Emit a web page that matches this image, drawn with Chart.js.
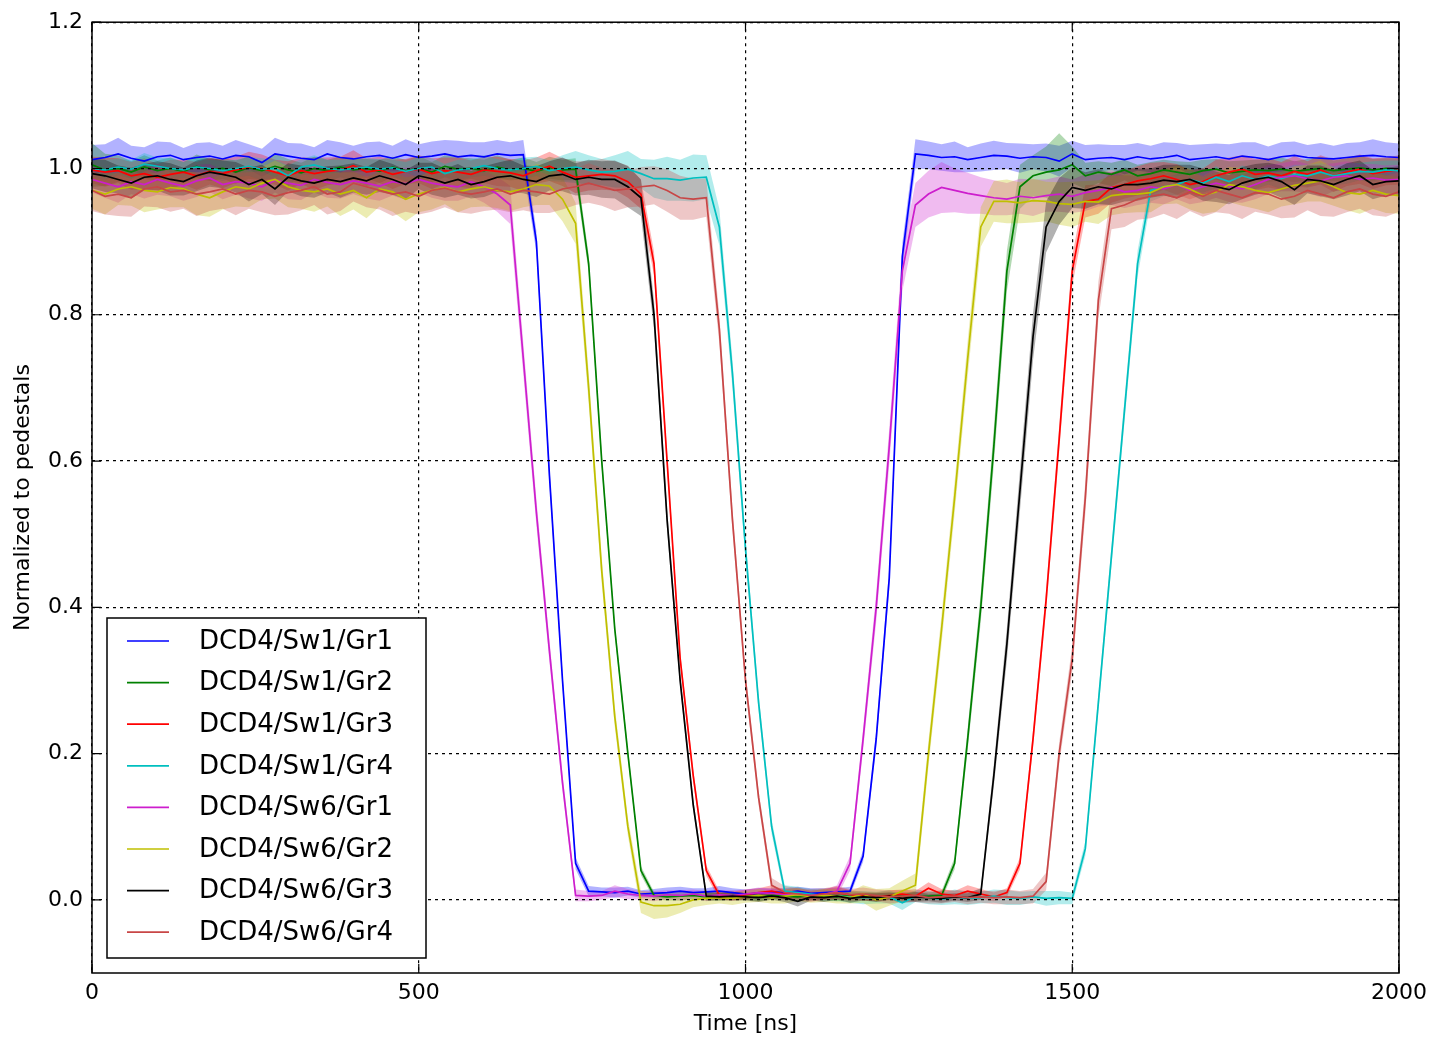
<!DOCTYPE html>
<html>
<head>
<meta charset="utf-8">
<script src="https://cdn.jsdelivr.net/npm/chart.js@4.4.1/dist/chart.umd.min.js"></script>
<style>
  html, body { margin: 0; padding: 0; background: #fff; }
  #wrap { width: 1431px; height: 1037px; }
</style>
</head>
<body>
<div id="wrap"><canvas id="myChart"></canvas></div>
<script>
// time axis, ns (one sample every 20 ns)
const times = [
  0, 20, 40, 60, 80, 100, 120, 140, 160, 180,
  200, 220, 240, 260, 280, 300, 320, 340, 360, 380,
  400, 420, 440, 460, 480, 500, 520, 540, 560, 580,
  600, 620, 640, 660, 680, 700, 720, 740, 760, 780,
  800, 820, 840, 860, 880, 900, 920, 940, 960, 980,
  1000, 1020, 1040, 1060, 1080, 1100, 1120, 1140, 1160, 1180,
  1200, 1220, 1240, 1260, 1280, 1300, 1320, 1340, 1360, 1380,
  1400, 1420, 1440, 1460, 1480, 1500, 1520, 1540, 1560, 1580,
  1600, 1620, 1640, 1660, 1680, 1700, 1720, 1740, 1760, 1780,
  1800, 1820, 1840, 1860, 1880, 1900, 1920, 1940, 1960, 1980,
  2000
];

const seriesNames = [
  'DCD4/Sw1/Gr1', 'DCD4/Sw1/Gr2', 'DCD4/Sw1/Gr3', 'DCD4/Sw1/Gr4',
  'DCD4/Sw6/Gr1', 'DCD4/Sw6/Gr2', 'DCD4/Sw6/Gr3', 'DCD4/Sw6/Gr4'
];

const sw1gr1 = [
  1.012, 1.015, 1.020, 1.014, 1.010, 1.016, 1.018, 1.012, 1.015, 1.017,
  1.013, 1.018, 1.016, 1.008, 1.020, 1.017, 1.014, 1.012, 1.020, 1.015,
  1.013, 1.016, 1.018, 1.014, 1.019, 1.015, 1.017, 1.020, 1.016, 1.018,
  1.016, 1.020, 1.018, 1.019, 0.900, 0.580, 0.300, 0.050, 0.012, 0.011,
  0.010, 0.012, 0.008, 0.009, 0.010, 0.012, 0.010, 0.011, 0.012, 0.010,
  0.008, 0.009, 0.011, 0.010, 0.012, 0.009, 0.010, 0.011, 0.012, 0.060,
  0.220, 0.440, 0.880, 1.020, 1.018, 1.015, 1.016, 1.012, 1.015, 1.018,
  1.017, 1.014, 1.016, 1.015, 1.010, 1.020, 1.012, 1.014, 1.015, 1.012,
  1.016, 1.013, 1.015, 1.018, 1.012, 1.014, 1.016, 1.013, 1.017, 1.015,
  1.012, 1.016, 1.018, 1.015, 1.014, 1.013, 1.015, 1.017, 1.018, 1.016,
  1.015
];
const sw1gr2 = [
  1.005, 0.998, 1.000, 0.995, 1.002, 0.997, 1.000, 0.996, 1.003, 0.998,
  1.000, 0.995, 1.001, 0.997, 1.003, 0.998, 0.994, 1.000, 0.997, 1.002,
  0.998, 1.000, 0.996, 1.002, 0.997, 1.000, 0.995, 1.003, 0.999, 1.000,
  0.997, 1.002, 0.998, 1.000, 0.996, 1.001, 0.998, 0.999, 0.870, 0.600,
  0.370, 0.200, 0.040, 0.006, 0.004, 0.005, 0.006, 0.004, 0.005, 0.006,
  0.005, 0.004, 0.006, 0.005, 0.004, 0.006, 0.005, 0.004, 0.006, 0.005,
  0.004, 0.005, 0.006, 0.004, 0.005, 0.006, 0.050, 0.220, 0.400, 0.620,
  0.860, 0.975, 0.990, 0.995, 0.998, 1.005, 0.990, 0.995, 0.992, 0.998,
  0.990, 0.993, 0.998, 0.995, 0.992, 0.997, 0.999, 0.994, 0.996, 0.998,
  0.997, 0.999, 0.996, 0.998, 1.000, 0.997, 0.999, 1.001, 0.998, 1.000,
  0.999
];
const sw1gr3 = [
  0.998, 0.995, 0.997, 0.990, 0.993, 0.988, 0.992, 0.995, 0.990, 0.996,
  0.993, 0.998, 1.002, 1.000, 0.995, 0.990, 0.997, 0.993, 0.996, 0.998,
  1.004, 0.995, 0.998, 0.992, 0.996, 0.999, 0.993, 0.997, 0.995, 0.992,
  0.998, 0.996, 0.994, 0.990, 0.997, 1.003, 0.995, 0.988, 0.990, 0.992,
  0.990, 0.982, 0.965, 0.870, 0.600, 0.330, 0.170, 0.040, 0.006, 0.005,
  0.007, 0.010, 0.012, 0.008, 0.010, 0.006, 0.008, 0.010, 0.007, 0.005,
  0.004, 0.006, 0.008, 0.005, 0.016, 0.008, 0.006, 0.012, 0.008, 0.004,
  0.010, 0.050, 0.220, 0.410, 0.630, 0.860, 0.955, 0.958, 0.974, 0.978,
  0.983, 0.986, 0.990, 0.985, 0.978, 0.982, 0.990, 0.995, 0.999, 0.992,
  0.994, 0.990, 0.996, 0.992, 0.998, 0.990, 0.995, 0.999, 0.993, 0.996,
  0.998
];
const sw1gr4 = [
  1.000, 0.998, 1.002, 0.999, 1.006, 1.003, 1.000, 0.998, 1.002, 1.000,
  0.997, 1.000, 1.003, 0.999, 1.000, 0.990, 1.002, 1.005, 1.000, 0.998,
  1.000, 1.002, 0.999, 1.001, 0.996, 1.000, 1.002, 0.993, 0.998, 1.000,
  1.004, 1.000, 0.998, 1.000, 1.003, 0.997, 1.000, 1.002, 0.998, 0.995,
  0.996, 0.999, 0.993, 0.986, 0.986, 0.984, 0.987, 0.988, 0.920, 0.720,
  0.480, 0.270, 0.100, 0.012, 0.010, 0.008, 0.006, 0.005, 0.004, 0.003,
  0.003, 0.004, -0.004, 0.005, 0.003, 0.001, 0.004, 0.002, 0.003, 0.005,
  0.003, 0.002, 0.004, 0.002, 0.003, 0.002, 0.070, 0.270, 0.470, 0.670,
  0.870, 0.970, 0.975, 0.978, 0.985, 0.980, 0.988, 0.982, 0.990, 0.985,
  0.990, 0.986, 0.992, 0.990, 0.995, 0.990, 0.993, 0.996, 0.995, 0.998,
  0.997
];
const sw6gr1 = [
  0.985, 0.980, 0.975, 0.982, 0.978, 0.985, 0.980, 0.976, 0.983, 0.987,
  0.978, 0.982, 0.980, 0.975, 0.984, 0.980, 0.977, 0.985, 0.981, 0.978,
  0.983, 0.980, 0.976, 0.982, 0.979, 0.985, 0.980, 0.977, 0.975, 0.982,
  0.975, 0.965, 0.950, 0.740, 0.530, 0.340, 0.160, 0.006, 0.005, 0.006,
  0.012, 0.008, 0.006, 0.005, 0.007, 0.006, 0.008, 0.005, 0.007, 0.006,
  0.008, 0.010, 0.009, 0.007, 0.008, 0.006, 0.007, 0.012, 0.050, 0.220,
  0.400, 0.620, 0.860, 0.950, 0.965, 0.974, 0.970, 0.966, 0.963, 0.960,
  0.958, 0.962, 0.960, 0.963, 0.965, 0.962, 0.967, 0.970, 0.974, 0.968,
  0.970, 0.975, 0.972, 0.978, 0.970, 0.975, 0.980, 0.976, 0.972, 0.978,
  0.985, 0.988, 0.990, 0.986, 0.983, 0.988, 0.990, 0.985, 0.987, 0.984,
  0.985
];
const sw6gr2 = [
  0.970, 0.965, 0.972, 0.975, 0.970, 0.968, 0.974, 0.972, 0.965, 0.960,
  0.968, 0.975, 0.972, 0.980, 0.985, 0.975, 0.970, 0.968, 0.972, 0.965,
  0.970, 0.960, 0.972, 0.968, 0.958, 0.965, 0.970, 0.974, 0.968, 0.972,
  0.975, 0.970, 0.968, 0.972, 0.978, 0.976, 0.958, 0.925, 0.700, 0.450,
  0.250, 0.100, -0.003, -0.008, -0.008, -0.006, 0.000, 0.002, 0.003, 0.002,
  0.004, 0.006, 0.003, 0.005, 0.007, 0.004, 0.006, 0.005, 0.003, 0.008,
  0.000, 0.004, 0.012, 0.020, 0.200, 0.370, 0.550, 0.740, 0.920, 0.955,
  0.955, 0.953, 0.956, 0.955, 0.952, 0.951, 0.955, 0.954, 0.963, 0.965,
  0.965, 0.967, 0.975, 0.978, 0.972, 0.963, 0.968, 0.978, 0.975, 0.970,
  0.967, 0.972, 0.977, 0.980, 0.983, 0.975, 0.967, 0.965, 0.970, 0.965,
  0.963
];
const sw6gr3 = [
  0.993, 0.990, 0.985, 0.980, 0.988, 0.990, 0.985, 0.982, 0.990, 0.995,
  0.992, 0.988, 0.978, 0.985, 0.972, 0.988, 0.983, 0.980, 0.985, 0.982,
  0.987, 0.983, 0.990, 0.985, 0.978, 0.990, 0.986, 0.980, 0.985, 0.978,
  0.982, 0.988, 0.990, 0.985, 0.982, 0.990, 0.992, 0.985, 0.988, 0.985,
  0.985, 0.975, 0.960, 0.800, 0.520, 0.300, 0.130, 0.005, 0.004, 0.005,
  0.004, 0.003, 0.005, 0.003, -0.002, 0.004, 0.003, 0.005, 0.002, 0.004,
  0.003, 0.005, 0.002, 0.004, 0.003, 0.002, 0.004, 0.003, 0.008, 0.170,
  0.350, 0.560, 0.770, 0.920, 0.955, 0.974, 0.970, 0.975, 0.972, 0.978,
  0.978, 0.980, 0.984, 0.982, 0.985, 0.978, 0.975, 0.971, 0.980, 0.985,
  0.988, 0.982, 0.971, 0.985, 0.983, 0.978, 0.985, 0.990, 0.978, 0.982,
  0.983
];
const sw6gr4 = [
  0.970, 0.962, 0.965, 0.960, 0.972, 0.975, 0.968, 0.970, 0.965, 0.968,
  0.972, 0.965, 0.970, 0.968, 0.962, 0.967, 0.970, 0.975, 0.965, 0.968,
  0.980, 0.975, 0.970, 0.965, 0.968, 0.962, 0.970, 0.973, 0.968, 0.965,
  0.968, 0.972, 0.965, 0.970, 0.968, 0.965, 0.972, 0.975, 0.980, 0.975,
  0.970, 0.972, 0.975, 0.977, 0.970, 0.960, 0.958, 0.960, 0.780, 0.520,
  0.300, 0.140, 0.020, 0.010, 0.008, 0.006, 0.008, 0.010, 0.007, 0.008,
  0.006, 0.004, 0.005, 0.006, 0.003, 0.004, 0.005, 0.003, 0.004, 0.003,
  0.004, 0.003, 0.005, 0.025, 0.200, 0.330, 0.550, 0.820, 0.945, 0.950,
  0.958, 0.962, 0.965, 0.960, 0.968, 0.962, 0.970, 0.965, 0.960, 0.967,
  0.965, 0.958, 0.962, 0.970, 0.965, 0.960, 0.968, 0.972, 0.965, 0.962,
  0.968
];

// half width of the shaded band, in thousandths
const sw1gr1Err = [
  20, 18, 22, 17, 19, 21, 18, 16, 20, 19,
  18, 21, 17, 19, 22, 18, 20, 17, 19, 21,
  18, 20, 19, 17, 21, 18, 20, 19, 22, 18,
  20, 19, 18, 20, 15, 12, 10, 8, 7, 6,
  7, 6, 5, 6, 7, 6, 6, 5, 7, 6,
  6, 7, 5, 6, 6, 7, 6, 5, 6, 8,
  12, 15, 18, 20, 19, 18, 21, 17, 19, 20,
  18, 20, 17, 19, 21, 18, 20, 19, 17, 20,
  19, 18, 21, 17, 20, 19, 18, 20, 19, 21,
  18, 20, 19, 17, 21, 18, 20, 19, 22, 20,
  19
];
const sw1gr2Err = [
  30, 22, 18, 15, 16, 14, 15, 13, 16, 15,
  14, 16, 15, 13, 17, 15, 14, 16, 15, 14,
  15, 13, 16, 14, 15, 17, 14, 15, 16, 14,
  15, 16, 14, 15, 13, 15, 14, 15, 12, 10,
  8, 7, 6, 5, 5, 6, 5, 5, 6, 5,
  5, 6, 5, 5, 6, 5, 5, 6, 5, 5,
  6, 5, 5, 6, 5, 6, 8, 15, 20, 25,
  28, 30, 28, 35, 50, 25, 18, 15, 16, 14,
  15, 16, 14, 15, 17, 15, 14, 16, 15, 14,
  15, 16, 14, 15, 16, 14, 15, 16, 15, 14,
  15
];
const sw1gr3Err = [
  18, 20, 17, 19, 21, 18, 20, 17, 19, 18,
  20, 18, 21, 19, 17, 20, 18, 22, 19, 18,
  21, 19, 18, 20, 17, 19, 21, 18, 20, 19,
  18, 20, 19, 21, 18, 20, 19, 22, 20, 21,
  20, 22, 20, 16, 13, 10, 8, 7, 6, 6,
  7, 6, 8, 6, 7, 6, 7, 8, 6, 6,
  6, 7, 6, 7, 8, 7, 6, 8, 7, 6,
  6, 8, 12, 15, 18, 20, 22, 20, 21, 19,
  20, 22, 19, 21, 20, 18, 22, 20, 19, 21,
  20, 19, 21, 18, 20, 22, 19, 20, 21, 19,
  20
];
const sw1gr4Err = [
  12, 14, 11, 13, 15, 12, 14, 11, 13, 12,
  14, 12, 13, 15, 12, 14, 11, 13, 12, 14,
  13, 12, 14, 11, 13, 15, 12, 13, 14, 12,
  14, 13, 12, 15, 13, 14, 18, 22, 20, 18,
  22, 25, 20, 26, 30, 28, 32, 30, 25, 20,
  15, 12, 10, 8, 8, 7, 8, 7, 8, 9,
  8, 9, 10, 8, 9, 8, 10, 9, 8, 9,
  10, 9, 8, 10, 9, 8, 10, 12, 14, 16,
  18, 15, 13, 14, 12, 13, 15, 12, 14, 13,
  12, 14, 13, 15, 12, 13, 14, 12, 15, 13,
  14
];
const sw6gr1Err = [
  18, 20, 22, 17, 19, 21, 18, 20, 22, 19,
  20, 18, 21, 19, 17, 22, 20, 18, 21, 19,
  18, 21, 20, 19, 22, 18, 20, 21, 19, 20,
  22, 24, 26, 22, 18, 15, 12, 8, 7, 6,
  8, 7, 6, 7, 6, 7, 6, 7, 6, 7,
  6, 7, 6, 7, 6, 7, 6, 8, 10, 15,
  20, 25, 28, 30, 32, 35, 30, 28, 25, 24,
  22, 24, 25, 22, 24, 23, 25, 22, 24, 22,
  20, 22, 21, 20, 19, 21, 20, 22, 19, 20,
  20, 19, 21, 20, 22, 19, 20, 21, 19, 20,
  20
];
const sw6gr2Err = [
  25, 28, 22, 26, 30, 24, 27, 25, 29, 26,
  24, 27, 25, 22, 26, 28, 25, 27, 24, 30,
  26, 28, 24, 27, 30, 25, 26, 23, 28, 25,
  27, 24, 26, 25, 28, 26, 30, 28, 22, 18,
  14, 12, 15, 18, 16, 12, 10, 9, 8, 9,
  8, 9, 8, 10, 9, 8, 9, 10, 8, 12,
  15, 12, 14, 16, 18, 20, 22, 25, 27, 28,
  30, 28, 30, 27, 29, 31, 28, 30, 27, 26,
  25, 27, 24, 26, 28, 25, 27, 24, 26, 25,
  27, 24, 26, 25, 28, 26, 24, 27, 25, 26,
  25
];
const sw6gr3Err = [
  20, 22, 19, 21, 18, 20, 22, 19, 21, 20,
  19, 21, 23, 20, 22, 19, 21, 20, 18, 22,
  20, 19, 22, 21, 20, 18, 22, 20, 21, 19,
  21, 20, 22, 19, 21, 20, 23, 22, 24, 25,
  26, 28, 25, 20, 15, 10, 8, 6, 5, 6,
  5, 6, 5, 6, 7, 5, 6, 5, 6, 5,
  6, 5, 6, 7, 5, 6, 5, 6, 8, 15,
  22, 28, 32, 35, 32, 28, 25, 24, 22, 23,
  22, 20, 21, 23, 20, 22, 21, 20, 22, 21,
  20, 22, 21, 19, 21, 20, 22, 21, 20, 19,
  20
];
const sw6gr4Err = [
  28, 25, 30, 26, 24, 28, 27, 25, 30, 26,
  27, 29, 25, 28, 26, 30, 27, 25, 28, 26,
  25, 28, 26, 30, 27, 25, 29, 26, 28, 27,
  26, 28, 25, 27, 29, 26, 28, 25, 27, 26,
  28, 25, 27, 26, 29, 30, 28, 26, 20, 15,
  12, 10, 10, 9, 8, 9, 8, 9, 8, 9,
  8, 9, 8, 9, 8, 9, 8, 9, 8, 9,
  10, 9, 10, 12, 15, 18, 22, 25, 28, 30,
  28, 30, 27, 29, 26, 28, 30, 27, 29, 26,
  28, 26, 29, 27, 30, 26, 28, 27, 29, 28,
  27
];

const xTicks = [0, 500, 1000, 1500, 2000];
const yTicks = [0.0, 0.2, 0.4, 0.6, 0.8, 1.0, 1.2];

const seriesValues = [sw1gr1, sw1gr2, sw1gr3, sw1gr4, sw6gr1, sw6gr2, sw6gr3, sw6gr4];
const seriesErrors = [sw1gr1Err, sw1gr2Err, sw1gr3Err, sw1gr4Err, sw6gr1Err, sw6gr2Err, sw6gr3Err, sw6gr4Err];
const seriesColors = [
  [0, 0, 255], [0, 128, 0], [255, 0, 0], [0, 191, 191],
  [205, 30, 205], [191, 191, 0], [0, 0, 0], [200, 70, 70]
];

const rgb = (c, a) => 'rgba(' + c[0] + ',' + c[1] + ',' + c[2] + ',' + a + ')';

const datasets = [];
seriesNames.forEach((name, k) => {
  const vals = seriesValues[k];
  const err = seriesErrors[k];
  const col = seriesColors[k];
  datasets.push({
    label: name + ' hi',
    isBand: true,
    data: times.map((t, i) => ({ x: t, y: vals[i] + err[i] / 1000 })),
    borderWidth: 0,
    pointRadius: 0,
    fill: false,
    order: 40 - k
  });
  datasets.push({
    label: name + ' lo',
    isBand: true,
    data: times.map((t, i) => ({ x: t, y: vals[i] - err[i] / 1000 })),
    borderWidth: 0,
    pointRadius: 0,
    backgroundColor: rgb(col, 0.3),
    fill: '-1',
    order: 40 - k
  });
  datasets.push({
    label: name,
    data: times.map((t, i) => ({ x: t, y: vals[i] })),
    borderColor: rgb(col, 1),
    borderWidth: 1.7,
    pointRadius: 0,
    fill: false,
    tension: 0,
    order: 20 - k
  });
});

// frame, inward ticks and the boxed legend (matplotlib look)
const framePlugin = {
  id: 'frame',
  afterDraw(chart) {
    const { ctx, chartArea: ca, scales } = chart;
    ctx.save();
    ctx.strokeStyle = '#000';
    ctx.lineWidth = 1.5;
    ctx.strokeRect(ca.left, ca.top, ca.right - ca.left, ca.bottom - ca.top);
    ctx.lineWidth = 1.2;
    ctx.beginPath();
    xTicks.forEach(v => {
      const px = scales.x.getPixelForValue(v);
      ctx.moveTo(px, ca.bottom); ctx.lineTo(px, ca.bottom - 9);
      ctx.moveTo(px, ca.top); ctx.lineTo(px, ca.top + 9);
    });
    yTicks.forEach(v => {
      const py = scales.y.getPixelForValue(v);
      ctx.moveTo(ca.left, py); ctx.lineTo(ca.left + 9, py);
      ctx.moveTo(ca.right, py); ctx.lineTo(ca.right - 9, py);
    });
    ctx.stroke();

    // legend box
    const lines = chart.data.datasets.filter(d => !d.isBand);
    const bw = 319, bh = 340;
    const bx = ca.left + 15, by = ca.bottom - 15 - bh;
    ctx.fillStyle = '#fff';
    ctx.fillRect(bx, by, bw, bh);
    ctx.lineWidth = 1.5;
    ctx.strokeStyle = '#000';
    ctx.strokeRect(bx, by, bw, bh);
    ctx.font = '26px "DejaVu Sans"';
    ctx.textBaseline = 'middle';
    ctx.textAlign = 'left';
    lines.forEach((d, i) => {
      const yy = by + 23 + i * 41.6;
      ctx.strokeStyle = d.borderColor;
      ctx.lineWidth = 1.7;
      ctx.beginPath();
      ctx.moveTo(bx + 20, yy); ctx.lineTo(bx + 62, yy);
      ctx.stroke();
      ctx.fillStyle = '#000';
      ctx.fillText(d.label, bx + 92, yy + 1);
    });
    ctx.restore();
  }
};

Chart.defaults.font.family = '"DejaVu Sans"';
Chart.defaults.color = '#000';

new Chart(document.getElementById('myChart'), {
  type: 'line',
  data: { datasets: datasets },
  options: {
    responsive: true,
    maintainAspectRatio: false,
    animation: false,
    layout: { padding: { top: 19, right: 32, bottom: 0, left: 0 } },
    plugins: {
      legend: { display: false },
      tooltip: { enabled: false }
    },
    scales: {
      x: {
        type: 'linear',
        min: 0,
        max: 2000,
        afterBuildTicks: s => { s.ticks = xTicks.map(v => ({ value: v })); },
        afterFit: s => { s.height = 64; s.paddingLeft = 0; s.paddingRight = 0; },
        ticks: {
          font: { size: 22 },
          padding: 7,
          maxRotation: 0,
          callback: v => String(v)
        },
        grid: { color: '#000', lineWidth: 1.2, drawTicks: false, z: 1 },
        border: { display: false, dash: [3, 4] },
        title: {
          display: true,
          text: 'Time [ns]',
          font: { size: 22 },
          padding: { top: 0, bottom: 0 }
        }
      },
      y: {
        type: 'linear',
        min: -0.1,
        max: 1.2,
        afterBuildTicks: s => { s.ticks = yTicks.map(v => ({ value: v })); },
        afterFit: s => { s.width = 92; },
        ticks: {
          font: { size: 22 },
          padding: 9,
          callback: v => v.toFixed(1)
        },
        grid: { color: '#000', lineWidth: 1.2, drawTicks: false, z: 1 },
        border: { display: false, dash: [3, 4] },
        title: {
          display: true,
          text: 'Normalized to pedestals',
          font: { size: 22 },
          padding: { top: 10, bottom: 0 }
        }
      }
    }
  },
  plugins: [framePlugin]
});
</script>
</body>
</html>
